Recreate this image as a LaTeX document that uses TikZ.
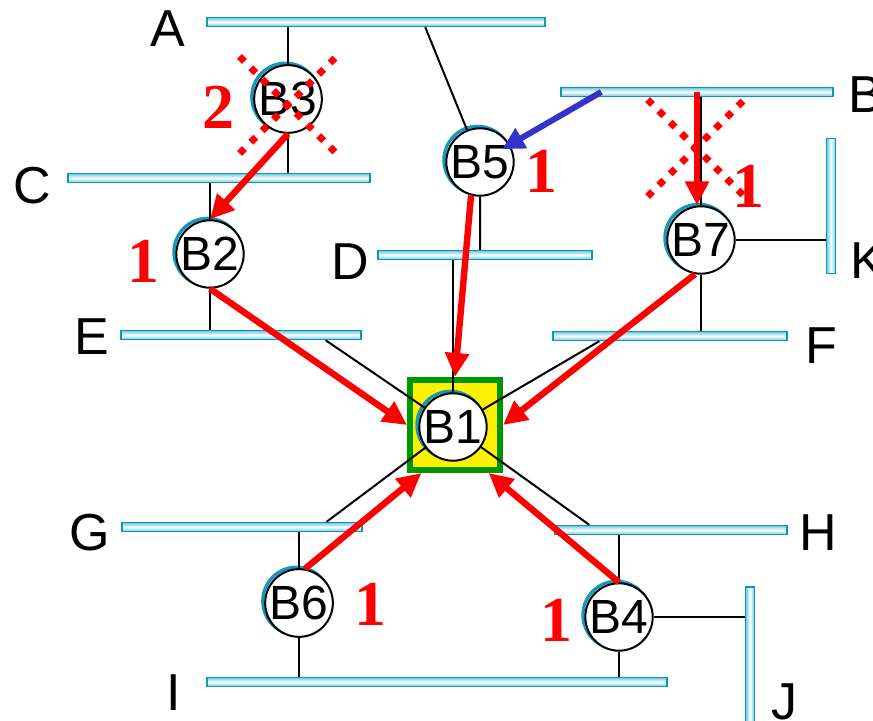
\documentclass[tikz,border=0pt]{standalone}
\usepackage{fontspec}
\setmainfont{Liberation Sans}
\newfontfamily\numfont{Liberation Serif}
\usetikzlibrary{arrows.meta,calc,shapes.misc}
\definecolor{LanEdge}{RGB}{10,150,195}
\definecolor{LanFill}{RGB}{110,200,228}
\definecolor{Teal}{RGB}{20,150,190}
\definecolor{Grass}{RGB}{0,150,0}
\definecolor{Indigo}{RGB}{51,51,204}
\begin{document}
\begin{tikzpicture}[x=.5pt,y=-.5pt,
  lan/.style={draw=LanEdge,line width=.8pt,top color=LanFill,bottom color=LanFill,middle color=white,inner sep=0pt,minimum height=4.4pt},
  lanv/.style={draw=LanEdge,line width=.8pt,left color=LanFill,right color=LanFill,middle color=white,inner sep=0pt,minimum width=4.4pt},
  bridge/.style={circle,draw,line width=1pt,fill=white,inner sep=0pt,minimum size=33pt,font=\fontsize{24}{24}\selectfont,
    preaction={draw=Teal,line width=1.6pt,transform canvas={shift={(-1.2pt,1pt)}}}},
  root/.style={draw=Grass,line width=3pt,fill=yellow,minimum size=45pt,inner sep=0pt},
  lbl/.style={font=\fontsize{26}{26}\selectfont,inner sep=0pt},
  cost/.style={text=red,font=\numfont\bfseries\fontsize{32}{32}\selectfont,inner sep=0pt},
  xmark/.style={cross out,draw=red,line width=3.5pt,dash pattern=on 3.5pt off 4.5pt,minimum size=45pt,inner sep=0pt},
  link/.style={line width=1pt},
  arr/.style={-{Triangle[length=12pt,width=11.5pt]},line width=3.2pt,red},
  barr/.style={-{Triangle[length=11pt,width=11pt]},line width=3pt,Indigo}]
\useasboundingbox (0,0) rectangle (873,721);
\node[lan,minimum width=169pt] (A) at (376,22) {};
\node[lan,minimum width=136pt] (B) at (697,92) {};
\node[lan,minimum width=151pt] (C) at (219,178) {};
\node[lan,minimum width=107pt] (D) at (485,255) {};
\node[lan,minimum width=120pt] (E) at (241,335) {};
\node[lan,minimum width=117pt] (F) at (670,336) {};
\node[lan,minimum width=120pt] (G) at (242,527) {};
\node[lan,minimum width=116pt] (H) at (671,530) {};
\node[lan,minimum width=230pt] (I) at (437,682) {};
\node[lanv,minimum height=67.5pt] (K) at (831,206) {};
\node[lanv,minimum height=75pt] (J) at (750,662) {};
\node[lbl] (lA) at (168,29) {A};
\node[lbl] (lB) at (866,95) {B};
\node[lbl] (lC) at (32,186) {C};
\node[lbl] (lD) at (350,262) {D};
\node[lbl] (lE) at (92,337) {E};
\node[lbl] (lF) at (821,346) {F};
\node[lbl] (lG) at (90,533) {G};
\node[lbl] (lH) at (818,533) {H};
\node[lbl] (lI) at (174,693) {I};
\node[lbl] (lJ) at (784,702) {J};
\node[lbl] (lK) at (868,261) {K};
\node[root] (sq) at (455,425) {};
\node[bridge] (B1) at (453,427) {B1};
\node[bridge] (B2) at (210,254) {B2};
\node[bridge] (B3) at (288,99) {B3};
\node[bridge] (B4) at (619,617) {B4};
\node[bridge] (B5) at (480,162) {B5};
\node[bridge] (B6) at (299,603) {B6};
\node[bridge] (B7) at (701,240) {B7};
\draw[link] (B3) -- (B3 |- A.south) (B3) -- (B3 |- C.north);
\draw[link] (B5.112) -- ($(A.south west)!.645!(A.south east)$) (B5) -- (B5 |- D.north);
\draw[link] (B7) -- (B7 |- B.south) (B7) -- (B7 -| K.west) (B7) -- (B7 |- F.north);
\draw[link] (B2) -- (B2 |- C.south) (B2) -- (B2 |- E.north);
\draw[link] (B1) -- (B1 |- D.south);
\draw[link] (B1) -- ($(E.south west)!.85!(E.south east)$);
\draw[link] (B1) -- ($(F.south west)!.2!(F.south east)$);
\draw[link] (B1) -- ($(G.north west)!.85!(G.north east)$);
\draw[link] (B1) -- ($(H.north west)!.15!(H.north east)$);
\draw[link] (B6) -- (B6 |- G.south) (B6) -- (B6 |- I.north);
\draw[link] (B4) -- (B4 |- H.south) (B4) -- (B4 -| J.west) (B4) -- (B4 |- I.north);
\node[cost] (n3) at (218,107) {2};
\node[cost] (n5) at (541,171) {1};
\node[cost] (n7) at (748,186) {1};
\node[cost] (n2) at (143,261) {1};
\node[cost] (n6) at (370,604) {1};
\node[cost] (n4) at (556,620) {1};
\draw[arr] (B3.south) -- (B2.north);
\draw[arr] (B2.south) -- (sq.west);
\draw[arr] (B5.-105) -- (sq.north);
\draw[arr] (B7.-100) -- (sq.east);
\draw[arr] (B6.80) -- (sq.-125);
\draw[arr] (B4.north) -- (sq.-55);
\coordinate (b7) at ($(B7.north |- B.center)+(-4,0)$);
\draw[arr] (b7) -- (b7 |- B7.north);
\coordinate (b5) at ($(B.west)!.15!(B.east)$);
\draw[barr,shorten >=-4.5pt] (b5) -- (B5);
\node[xmark] (x3) at (288,105) {};
\node[xmark] (x7) at (696,148) {};
\end{tikzpicture}
\end{document}
